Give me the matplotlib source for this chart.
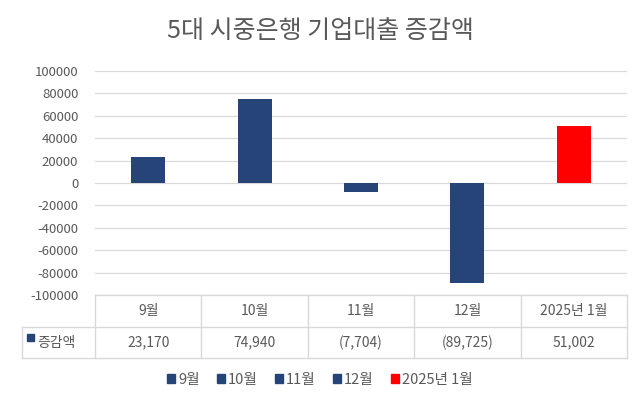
import matplotlib
matplotlib.use("Agg")
import matplotlib.pyplot as plt
from matplotlib.lines import Line2D
from matplotlib.patches import Rectangle

plt.rcParams['font.family'] = ['Noto Sans CJK KR', 'DejaVu Sans']
plt.rcParams['axes.unicode_minus'] = False

# Data
months = ['9월', '10월', '11월', '12월', '2025년 1월']
changes = [23170, 74940, -7704, -89725, 51002]
cell_labels = ['23,170', '74,940', '(7,704)', '(89,725)', '51,002']
series_name = '증감액'
colors = ['#264478', '#264478', '#264478', '#264478', '#FF0000']

text_col = '#595959'
line_col = '#D9D9D9'

W, H = 640, 398
fig = plt.figure(figsize=(W / 100, H / 100), dpi=100)

left, right, top, bottom = 95, 627, 71, 295
ax = fig.add_axes([left / W, 1 - bottom / H, (right - left) / W, (bottom - top) / H])

x = range(len(months))
ax.bar(x, changes, width=0.32, color=colors, zorder=3)
ax.set_xlim(-0.5, len(months) - 0.5)
ax.set_ylim(-100000, 100000)
ax.set_yticks(range(-100000, 100001, 20000))
ax.tick_params(axis='y', length=0, labelsize=9.5, labelcolor=text_col, pad=12)
ax.set_xticks([])
ax.grid(axis='y', color=line_col, linewidth=0.9, zorder=0)
for s in ax.spines.values():
    s.set_visible(False)

fig.text(0.5, 1 - 31 / H, '5대 시중은행 기업대출 증감액', ha='center', va='center',
         fontsize=18, color=text_col)

# data table below the plot
row1, row2, row3 = 295, 327, 358
col_w = (right - left) / len(months)


def fx(px):
    return px / W


def fy(py):
    return 1 - py / H


def hline(y, x0, x1):
    fig.add_artist(Line2D([fx(x0), fx(x1)], [fy(y), fy(y)], color=line_col, lw=1))


def vline(xp, y0, y1):
    fig.add_artist(Line2D([fx(xp), fx(xp)], [fy(y0), fy(y1)], color=line_col, lw=1))


hline(row1, left, right)
hline(row2, 22, right)
hline(row3, 22, right)
vline(22, row2, row3)
for i in range(len(months) + 1):
    vline(left + i * col_w, row1, row3)

for i, m in enumerate(months):
    cx = left + (i + 0.5) * col_w
    fig.text(fx(cx), fy((row1 + row2) / 2), m, ha='center', va='center', fontsize=10, color=text_col)
    fig.text(fx(cx), fy((row2 + row3) / 2), cell_labels[i], ha='center', va='center', fontsize=10, color=text_col)

fig.add_artist(Rectangle((fx(27), fy(341)), 7 / W, 7 / H, color='#264478'))
fig.text(fx(37), fy((row2 + row3) / 2), series_name, ha='left', va='center', fontsize=10, color=text_col)

# legend
handles = [Rectangle((0, 0), 1, 1, color=c) for c in colors]
fig.legend(handles, months, loc='center', bbox_to_anchor=(0.5, fy(380)), ncol=5, frameon=False,
           fontsize=10.5, labelcolor=text_col, handlelength=0.55, handleheight=0.55, handletextpad=0.2,
           columnspacing=1.2)

fig.savefig('out.png', dpi=100)
